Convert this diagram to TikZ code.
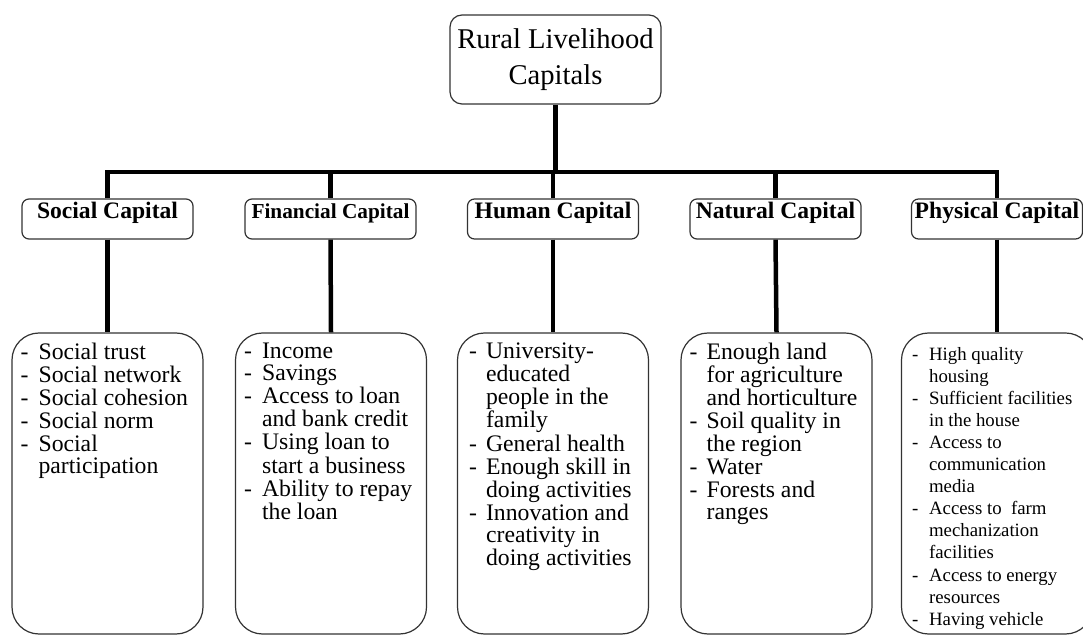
\documentclass[tikz,border=0pt]{standalone}
\usepackage{fontspec}
\setmainfont{Liberation Serif}
\usepackage{array}
\usetikzlibrary{positioning,calc}

\tikzset{
    rootbox/.style={draw=black!80, line width=1.2pt, rounded corners=12pt, minimum width=211pt, minimum height=89pt, align=center, font=\fontsize{28.6}{36.5}\selectfont},
    capbox/.style={draw=black!80, line width=1.2pt, rounded corners=7pt, minimum width=171pt, text height=16pt, text depth=16pt, inner ysep=4pt, inner xsep=2pt, font=\fontsize{23.6}{26}\selectfont\bfseries},
    listbox/.style={draw=black!80, line width=1.2pt, rounded corners=27pt, minimum width=191pt, minimum height=301pt},
    listtext/.style={inner sep=0pt, font=\fontsize{23.7}{22.3}\selectfont},
    smalltext/.style={inner sep=0pt, font=\fontsize{18.8}{22.1}\selectfont},
    link/.style={line width=4.5pt}
}

\begin{document}
\begin{tikzpicture}[x=1pt, y=1pt]
    \useasboundingbox (0,0) rectangle (1083,637);

    % top
    \node[rootbox] (root) at (555.5,577.5) {Rural Livelihood\\Capitals};
    \coordinate (bar) at (0,465);

    % capitals
    \node[capbox] (soc) at (107.5,418) {Social Capital};
    \node[capbox, font=\fontsize{21.3}{24}\selectfont\bfseries] (fin) at (330.5,418) {Financial Capital};
    \node[capbox] (hum) at (553,418) {Human Capital};
    \node[capbox] (nat) at (775.5,418) {Natural Capital};
    \node[capbox] (phy) at (997,418) {Physical Capital};

    % indicator boxes
    \node[listbox] (socl) at (107.5,153.5) {};
    \node[listbox] (finl) at (331,153.5) {};
    \node[listbox] (huml) at (553,153.5) {};
    \node[listbox] (natl) at (776.5,153.5) {};
    \node[listbox] (phyl) at (997,153.5) {};

    \node[listtext, below right=10pt and 9pt of socl.north west] (soct) {\begin{tabular}{@{}p{18pt}@{}l@{}}
    - & Social trust\\
    - & Social network\\
    - & Social cohesion\\
    - & Social norm\\
    - & Social\\
      & participation
    \end{tabular}};
    \node[listtext, below right=10pt and 9pt of finl.north west] (fint) {\begin{tabular}{@{}p{18pt}@{}l@{}}
    - & Income\\
    - & Savings\\
    - & Access to loan\\
      & and bank credit\\
    - & Using loan to\\
      & start a business\\
    - & Ability to repay\\
      & the loan
    \end{tabular}};
    \node[listtext, below right=10pt and 12pt of huml.north west] (humt) {\begin{tabular}{@{}p{17pt}@{}l@{}}
    - & University-\\
      & educated\\
      & people in the\\
      & family\\
    - & General health\\
    - & Enough skill in\\
      & doing activities\\
    - & Innovation and\\
      & creativity in\\
      & doing activities
    \end{tabular}};
    \node[listtext, below right=10pt and 9pt of natl.north west] (natt) {\begin{tabular}{@{}p{17pt}@{}l@{}}
    - & Enough land\\
      & for agriculture\\
      & and horticulture\\
    - & Soil quality in\\
      & the region\\
    - & Water\\
    - & Forests and\\
      & ranges
    \end{tabular}};
    \node[smalltext, below right=12pt and 11pt of phyl.north west] (phyt) {\begin{tabular}{@{}p{17pt}@{}l@{}}
    - & High quality\\
      & housing\\
    - & Sufficient facilities\\
      & in the house\\
    - & Access to\\
      & communication\\
      & media\\
    - & Access to\ \ farm\\
      & mechanization\\
      & facilities\\
    - & Access to energy\\
      & resources\\
    - & Having vehicle
    \end{tabular}};

    % connectors
    \draw[link] (root.south) -- (root.south |- bar);
    \draw[link] (soc.north) -- (soc.north |- bar) -- (phy.north |- bar) -- (phy.north);
    \draw[link] (fin.north) -- (fin.north |- bar);
    \draw[link] (hum.north) -- (hum.north |- bar);
    \draw[link] (nat.north) -- (nat.north |- bar);
    \draw[link] (soc.south) -- (socl.north);
    \draw[link] (fin.south) -- (finl.north);
    \draw[link] (hum.south) -- (huml.north);
    \draw[link] (nat.south) -- (natl.north);
    \draw[link] (phy.south) -- (phyl.north);
\end{tikzpicture}
\end{document}
